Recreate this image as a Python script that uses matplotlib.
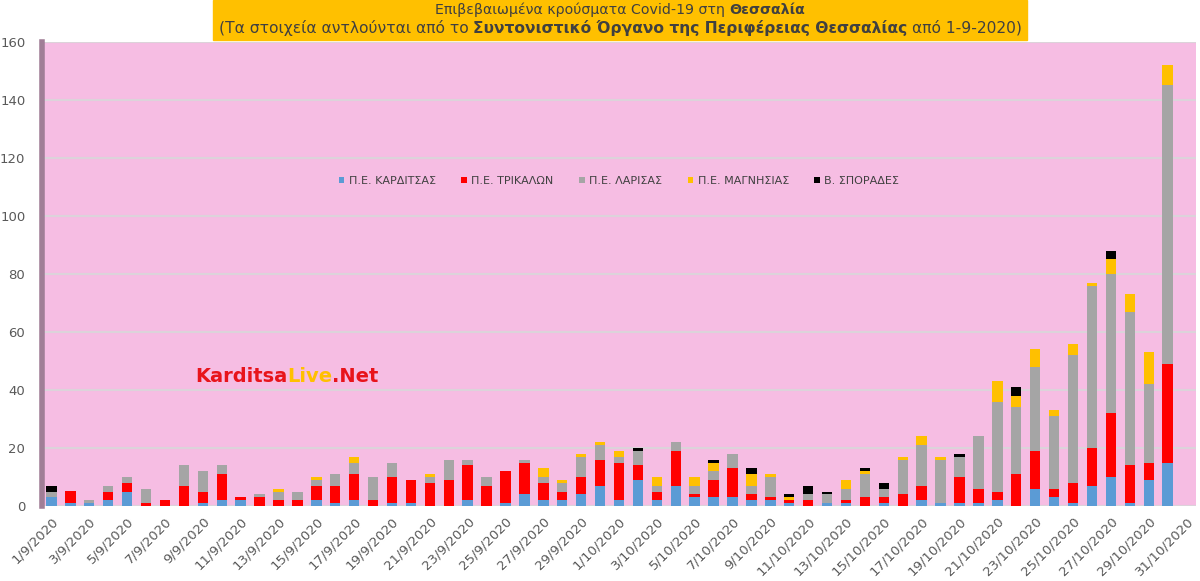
import numpy as np
import matplotlib.pyplot as plt
from matplotlib.patches import Rectangle
from matplotlib import font_manager

# dates 1/9/2020 .. 31/10/2020
dates = [f"{d}/9/2020" for d in range(1, 31)] + [f"{d}/10/2020" for d in range(1, 32)]

karditsa = [3, 1, 1, 2, 5, 0, 0, 0, 1, 2, 2, 0, 0, 0, 2, 1, 2, 0, 1, 1,
            0, 0, 2, 0, 1, 4, 2, 2, 4, 7, 2, 9, 2, 7, 3, 3, 3, 2, 2, 1,
            0, 1, 1, 0, 1, 0, 2, 1, 1, 1, 2, 0, 6, 3, 1, 7, 10, 1, 9, 15, 0]
trikala = [0, 4, 0, 3, 3, 1, 2, 7, 4, 9, 1, 3, 2, 2, 5, 6, 9, 2, 9, 8,
           8, 9, 12, 7, 11, 11, 6, 3, 6, 9, 13, 5, 3, 12, 1, 6, 10, 2, 1, 1,
           2, 0, 1, 3, 2, 4, 5, 0, 9, 5, 3, 11, 13, 3, 7, 13, 22, 13, 6, 34, 0]
larisa = [2, 0, 1, 2, 2, 5, 0, 7, 7, 3, 0, 1, 3, 3, 2, 4, 4, 8, 5, 0,
          2, 7, 2, 3, 0, 1, 2, 3, 7, 5, 2, 5, 2, 3, 3, 3, 5, 3, 7, 0,
          2, 3, 4, 8, 3, 12, 14, 15, 7, 18, 31, 23, 29, 25, 44, 56, 48, 53, 27, 96, 0]
magnisia = [0, 0, 0, 0, 0, 0, 0, 0, 0, 0, 0, 0, 1, 0, 1, 0, 2, 0, 0, 0,
            1, 0, 0, 0, 0, 0, 3, 1, 1, 1, 2, 0, 3, 0, 3, 3, 0, 4, 1, 1,
            0, 0, 3, 1, 0, 1, 3, 1, 0, 0, 7, 4, 6, 2, 4, 1, 5, 6, 11, 7, 0]
sporades = [2, 0, 0, 0, 0, 0, 0, 0, 0, 0, 0, 0, 0, 0, 0, 0, 0, 0, 0, 0,
            0, 0, 0, 0, 0, 0, 0, 0, 0, 0, 0, 1, 0, 0, 0, 1, 0, 2, 0, 1,
            3, 1, 0, 1, 2, 0, 0, 0, 1, 0, 0, 3, 0, 0, 0, 0, 3, 0, 0, 0, 0]

series_names = ["Π.Ε. ΚΑΡΔΙΤΣΑΣ", "Π.Ε. ΤΡΙΚΑΛΩΝ", "Π.Ε. ΛΑΡΙΣΑΣ", "Π.Ε. ΜΑΓΝΗΣΙΑΣ", "Β. ΣΠΟΡΑΔΕΣ"]
series_colors = ["#5B9BD5", "#FF0000", "#A5A5A5", "#FFC000", "#000000"]

title_line1 = [("Επιβεβαιωμένα κρούσματα Covid-19 στη", "normal"), ("Θεσσαλία", "bold")]
title_line2 = [("(Τα στοιχεία αντλούνται από το", "normal"),
               ("Συντονιστικό Όργανο της Περιφέρειας Θεσσαλίας", "bold"),
               ("από 1-9-2020)", "normal")]

names = {f.name for f in font_manager.fontManager.ttflist}
narrow = "Liberation Sans Narrow" if "Liberation Sans Narrow" in names else "DejaVu Sans"

W, H = 1200, 581
fig = plt.figure(figsize=(W / 100, H / 100), dpi=100)
ax = fig.add_axes([42 / W, 1 - 506 / H, (1196 - 42) / W, (506 - 42) / H])
ax.set_facecolor("#F6BDE3")

x = np.arange(len(dates))
bottom = np.zeros(len(dates))
for vals, name, col in zip([karditsa, trikala, larisa, magnisia, sporades], series_names, series_colors):
    v = np.array(vals, dtype=float)
    ax.bar(x, v, 0.55, bottom=bottom, color=col, label=name, zorder=3, linewidth=0)
    bottom += v

ax.set_xlim(-0.5, len(dates) - 0.5)
ax.set_ylim(0, 160)
ax.set_yticks(np.arange(0, 161, 20))
ax.yaxis.grid(True, color="#DCD3DA", lw=1.5, zorder=1)
ax.set_axisbelow(True)
ax.tick_params(axis="y", length=0, pad=12, labelsize=9.5, labelcolor="#595959")
ax.set_xticks(x[::2])
ax.set_xticklabels(dates[::2], rotation=45, ha="right", rotation_mode="anchor",
                   fontsize=9.5, color="#595959")
ax.tick_params(axis="x", length=0, pad=6)
for s in ["top", "right", "bottom"]:
    ax.spines[s].set_visible(False)
ax.spines["left"].set_color("#A07E96")
ax.spines["left"].set_linewidth(4)

ax.legend(loc="center", bbox_to_anchor=(0.5, 0.70), ncol=5, frameon=False,
          prop={"family": narrow, "size": 8}, handlelength=0.5, handleheight=0.5,
          handletextpad=0.4, columnspacing=2.3, labelcolor="#404040")

# title box
fig.patches.append(Rectangle((213 / W, 1 - 40 / H), (1027 - 213) / W, 40 / H,
                             transform=fig.transFigure, color="#FFC000", zorder=0))

renderer = fig.canvas.get_renderer()


def rich_line(pieces, cx, cy, size, family, colors=None, fit=None, gap_on=True):
    texts = []
    for i, (s, w) in enumerate(pieces):
        c = colors[i] if colors else "#404040"
        texts.append(fig.text(0, cy, s, fontsize=size, fontweight=w, color=c,
                              family=family, va="center", ha="left"))
    widths = [t.get_window_extent(renderer).width for t in texts]
    gap = size * 0.4 if gap_on else 0
    total = sum(widths) + gap * (len(widths) - 1)
    if fit is not None:
        for t in texts:
            t.remove()
        return rich_line(pieces, cx, cy, size * fit / total, family, colors, None, gap_on)
    xpos = cx - total / 2
    for t, wd in zip(texts, widths):
        t.set_x(xpos / W)
        xpos += wd + gap
    return size


rich_line(title_line1, 620, 1 - 10 / H, 10, "DejaVu Sans", fit=368)
rich_line(title_line2, 620, 1 - 28 / H, 10, "DejaVu Sans", fit=805)

wm = [("Karditsa", "bold"), ("Live", "bold"), (".Net", "bold")]
rich_line(wm, 287, 1 - 376 / H, 14, "DejaVu Sans",
          colors=["#E8141B", "#FFC000", "#E8141B"], gap_on=False)

fig.savefig("out.png", dpi=100)
